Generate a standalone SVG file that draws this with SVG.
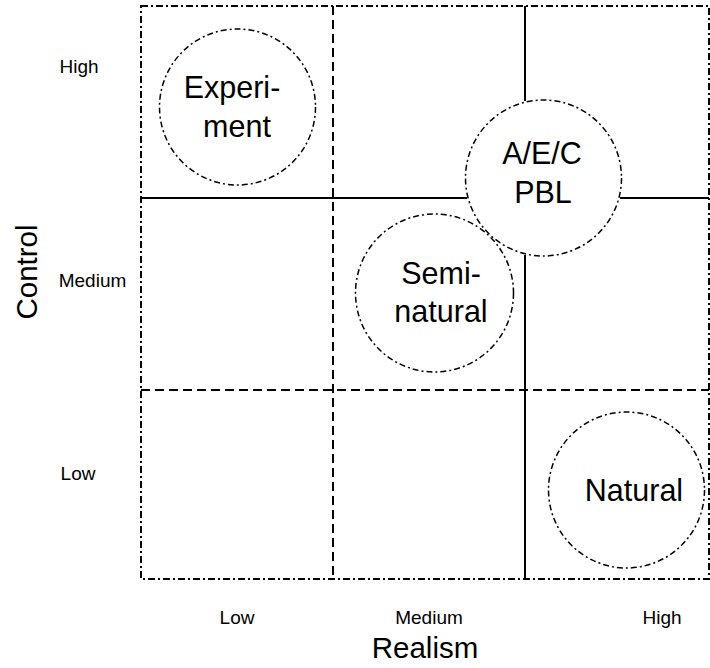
<svg xmlns="http://www.w3.org/2000/svg" width="710" height="668" viewBox="0 0 710 668">
<style>
.bg{fill:#fff}
.border{fill:none;stroke:#000;stroke-width:2;stroke-dasharray:7 3 2 3}
.dash{fill:none;stroke:#000;stroke-width:2;stroke-dasharray:9 5}
.solid{fill:none;stroke:#000;stroke-width:2}
.node{fill:#fff;stroke:#000;stroke-width:1.5;stroke-dasharray:6 3 2 3}
.nt{font-family:"Liberation Sans",Arial,sans-serif;font-size:30.5px;fill:#000;text-anchor:middle}
.tick{font-family:"Liberation Sans",Arial,sans-serif;font-size:19px;fill:#000;text-anchor:middle}
.title{font-family:"Liberation Sans",Arial,sans-serif;font-size:29.5px;fill:#000;text-anchor:middle}
</style>
<rect class="bg" x="0" y="0" width="710" height="668"/>
<g id="connectors">
<rect class="border" x="141" y="6" width="568" height="573"/>
<line class="dash" x1="333" y1="6" x2="333" y2="579"/>
<line class="dash" x1="141" y1="390" x2="709" y2="390"/>
<line class="solid" x1="525" y1="6" x2="525" y2="101"/>
<line class="solid" x1="525" y1="255" x2="525" y2="579"/>
<line class="solid" x1="141" y1="198" x2="467" y2="198"/>
<line class="solid" x1="620" y1="198" x2="709" y2="198"/>
</g>
<g id="node-experiment">
<circle class="node" cx="237.5" cy="107" r="78"/>
<text class="nt" x="232" y="98">Experi-</text>
<text class="nt" x="237" y="137">ment</text>
</g>
<g id="node-seminatural">
<circle class="node" cx="434.5" cy="293" r="79"/>
<text class="nt" x="441" y="284">Semi-</text>
<text class="nt" x="441" y="322">natural</text>
</g>
<g id="node-aec">
<circle class="node" cx="543.5" cy="178" r="78"/>
<text class="nt" x="542" y="164">A/E/C</text>
<text class="nt" x="543" y="203">PBL</text>
</g>
<g id="node-natural">
<circle class="node" cx="626.5" cy="490" r="78"/>
<text class="nt" x="634" y="501">Natural</text>
</g>
<g id="axes">
<text class="tick" x="79" y="73">High</text>
<text class="tick" x="92.5" y="287">Medium</text>
<text class="tick" x="78" y="480">Low</text>
<text class="tick" x="237" y="624">Low</text>
<text class="tick" x="429" y="624">Medium</text>
<text class="tick" x="662" y="624">High</text>
<text class="title" x="425" y="658">Realism</text>
<text class="title" transform="translate(37,272) rotate(-90)" x="0" y="0">Control</text>
</g>
</svg>
